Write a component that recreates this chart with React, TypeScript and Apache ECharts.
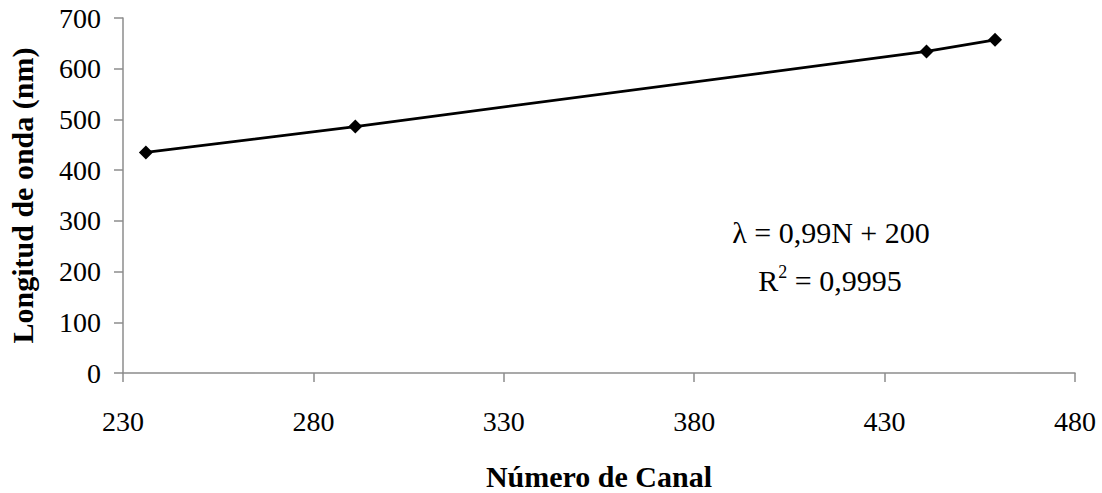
import React, { useEffect, useRef } from "react";
import * as echarts from "echarts";

const channels = [236, 291, 441, 459];
const wavelengths = [435, 486, 634, 657];
const xTitle = "Número de Canal";
const yTitle = "Longitud de onda (nm)";
const equationText = "λ = 0,99N + 200";
const r2Label = "R";
const r2Value = " = 0,9995";

export default function App() {
  const ref = useRef<HTMLDivElement>(null);
  useEffect(() => {
    if (!ref.current) return;
    const chart = echarts.init(ref.current, undefined, { renderer: "svg" });
    const font = "Liberation Serif";
    const axisColor = "#8c8c8c";
    chart.setOption({
      animation: false,
      backgroundColor: "#ffffff",
      textStyle: { fontFamily: font },
      grid: { left: 123, right: 27, top: 18, bottom: 120, containLabel: false, outerBoundsMode: "none" },
      xAxis: {
        type: "value",
        min: 230,
        max: 480,
        interval: 50,
        name: xTitle,
        nameLocation: "middle",
        nameGap: 88,
        nameTextStyle: { fontFamily: font, fontSize: 30, fontWeight: "bold", color: "#000" },
        axisLine: { show: true, lineStyle: { color: axisColor, width: 1.5 } },
        axisTick: { show: true, length: 9, lineStyle: { color: axisColor, width: 1.5 } },
        axisLabel: { fontFamily: font, fontSize: 28, color: "#000", margin: 34 },
        splitLine: { show: false },
      },
      yAxis: {
        type: "value",
        min: 0,
        max: 700,
        interval: 100,
        name: yTitle,
        nameLocation: "middle",
        nameGap: 86,
        nameTextStyle: { fontFamily: font, fontSize: 30, fontWeight: "bold", color: "#000" },
        axisLine: { show: true, lineStyle: { color: axisColor, width: 1.5 } },
        axisTick: { show: true, length: 9, lineStyle: { color: axisColor, width: 1.5 } },
        axisLabel: { fontFamily: font, fontSize: 28, color: "#000", margin: 22 },
        splitLine: { show: false },
      },
      series: [
        {
          type: "line",
          data: channels.map((c, i) => [c, wavelengths[i]]),
          symbol: "diamond",
          symbolSize: 14,
          itemStyle: { color: "#000" },
          lineStyle: { color: "#000", width: 2.8 },
        },
      ],
      graphic: [
        {
          type: "text",
          x: 831,
          y: 232,
          style: {
            text: equationText,
            fontFamily: font,
            fontSize: 30,
            fill: "#000",
            textAlign: "center",
            textVerticalAlign: "middle",
          },
        },
        {
          type: "text",
          x: 830,
          y: 279,
          style: {
            text: `{b|${r2Label}}{s|2}{b|${r2Value}}`,
            fontFamily: font,
            fill: "#000",
            textAlign: "center",
            textVerticalAlign: "middle",
            rich: {
              b: { fontFamily: font, fontSize: 30, fill: "#000", verticalAlign: "bottom" },
              s: { fontFamily: font, fontSize: 18, fill: "#000", verticalAlign: "top", padding: [0, 0, 14, 0] },
            },
          },
        },
      ],
    });
    return () => chart.dispose();
  }, []);
  return (
    <div
      ref={ref}
      style={{ position: "fixed", left: 0, top: 0, width: 1102, height: 493 }}
    />
  );
}
